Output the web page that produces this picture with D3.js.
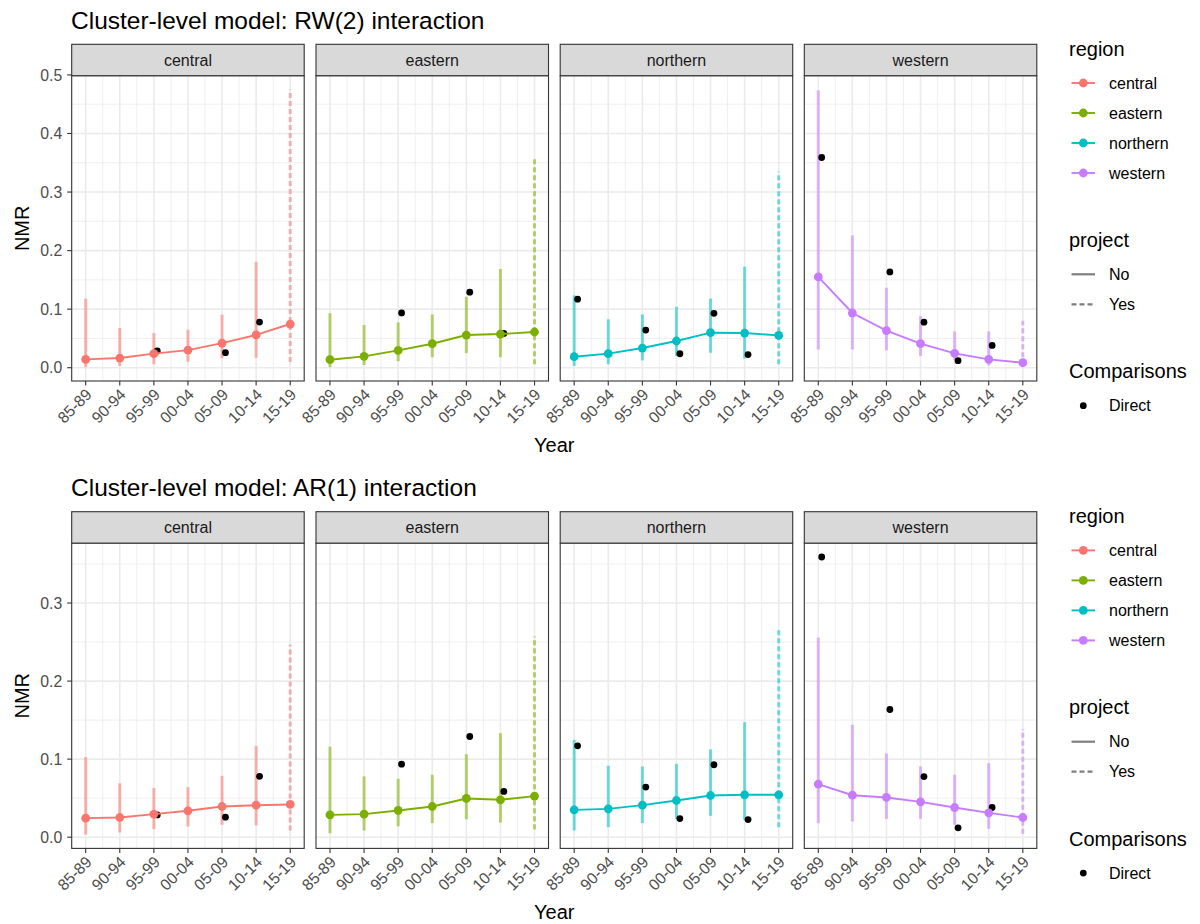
<!DOCTYPE html>
<html><head><meta charset="utf-8">
<script src="https://cdn.jsdelivr.net/npm/d3@7"></script>
<style>
body{margin:0;background:#fff}
text{font-family:"Liberation Sans",Arial,Helvetica,sans-serif}
</style>
</head><body>
<svg id="c" width="1200" height="924"></svg>
<script>
// ---------- data ----------
const periods = ["85-89","90-94","95-99","00-04","05-09","10-14","15-19"];
const regions = ["central","eastern","northern","western"];
const regionColors = ["#F8766D","#7CAE00","#00BFC4","#C77CFF"];
const projectFlag = ["No","No","No","No","No","No","Yes"];
const modelTitles = ["Cluster-level model: RW(2) interaction","Cluster-level model: AR(1) interaction"];
const yTicksTop = [0,0.1,0.2,0.3,0.4,0.5];
const yTicksBottom = [0,0.1,0.2,0.3];

// direct estimates (black points)
const direct_central  = [null,null,0.0285,null,0.0256,0.078,null];
const direct_eastern  = [null,null,0.0935,null,0.129,0.0586,null];
const direct_northern = [0.117,null,0.0642,0.0238,0.0928,0.0225,null];
const direct_western  = [0.359,null,0.1636,0.0777,0.012,0.038,null];

// RW(2) model
const rw2_central_est  = [0.0142,0.0165,0.024,0.030,0.042,0.056,0.0746];
const rw2_central_lo   = [0.001,0.003,0.006,0.010,0.016,0.017,0.0097];
const rw2_central_hi   = [0.118,0.068,0.059,0.065,0.0905,0.181,0.475];
const rw2_eastern_est  = [0.0137,0.0194,0.0296,0.041,0.0558,0.0575,0.061];
const rw2_eastern_lo   = [0.001,0.0046,0.011,0.018,0.025,0.018,0.006];
const rw2_eastern_hi   = [0.093,0.073,0.0775,0.091,0.121,0.1686,0.359];
const rw2_northern_est = [0.0188,0.024,0.0336,0.0456,0.0598,0.0592,0.0552];
const rw2_northern_lo  = [0.003,0.006,0.0125,0.02,0.0256,0.0154,0.006];
const rw2_northern_hi  = [0.1236,0.0826,0.091,0.104,0.118,0.1726,0.335];
const rw2_western_est  = [0.155,0.0934,0.0632,0.041,0.0245,0.0142,0.0085];
const rw2_western_lo   = [0.031,0.031,0.0296,0.02,0.013,0.004,0.004];
const rw2_western_hi   = [0.474,0.226,0.1367,0.088,0.062,0.062,0.080];

// AR(1) model
const ar1_central_est  = [0.0244,0.0252,0.0295,0.0338,0.0393,0.041,0.0419];
const ar1_central_lo   = [0.0034,0.006,0.0103,0.0137,0.016,0.015,0.0085];
const ar1_central_hi   = [0.1026,0.069,0.063,0.064,0.0786,0.117,0.2466];
const ar1_eastern_est  = [0.0286,0.0295,0.0342,0.0393,0.0496,0.0479,0.0526];
const ar1_eastern_lo   = [0.005,0.0085,0.014,0.018,0.023,0.0188,0.0103];
const ar1_eastern_hi   = [0.116,0.0778,0.0748,0.080,0.1064,0.1333,0.257];
const ar1_northern_est = [0.035,0.0363,0.041,0.047,0.0534,0.0543,0.0543];
const ar1_northern_lo  = [0.0085,0.0128,0.018,0.0235,0.0274,0.0222,0.0128];
const ar1_northern_hi  = [0.1248,0.0915,0.0906,0.094,0.1124,0.1474,0.266];
const ar1_western_est  = [0.068,0.0538,0.0509,0.0453,0.038,0.0312,0.0252];
const ar1_western_lo   = [0.018,0.020,0.0235,0.0235,0.0158,0.0107,0.0043];
const ar1_western_hi   = [0.2556,0.144,0.1073,0.0906,0.080,0.0949,0.1385];

// ---------- assemble ----------
const directs = [direct_central,direct_eastern,direct_northern,direct_western];
const modelData = [
  {est:[rw2_central_est,rw2_eastern_est,rw2_northern_est,rw2_western_est],
   lo:[rw2_central_lo,rw2_eastern_lo,rw2_northern_lo,rw2_western_lo],
   hi:[rw2_central_hi,rw2_eastern_hi,rw2_northern_hi,rw2_western_hi]},
  {est:[ar1_central_est,ar1_eastern_est,ar1_northern_est,ar1_western_est],
   lo:[ar1_central_lo,ar1_eastern_lo,ar1_northern_lo,ar1_western_lo],
   hi:[ar1_central_hi,ar1_eastern_hi,ar1_northern_hi,ar1_western_hi]}
];

function niceDomain(vals){
  const mn = d3.min(vals), mx = d3.max(vals), r = mx - mn;
  return [mn - 0.05*r, mx + 0.05*r];
}

// ---------- layout ----------
const svg = d3.select("#c");
const panelLefts = [71.7, 316, 560.2, 804.3];
const panelW = 232.5;
const rowOffset = 467.4;
const stripTop0 = 44.3, panelTop0 = 75.7, panelBot0 = 381;
const grid = "#EBEBEB", dark = "#333333", tickText = "#4D4D4D";
const fTick = 15.8, fStrip = 16, fAxisTitle = 20, fLegTitle = 20, fLegText = 16, fTitle = 24.5;

const x = d3.scaleLinear().domain([-0.41, 6.41]).range([0, panelW]);
const colorScale = d3.scaleOrdinal().domain(regions).range(regionColors);

[0,1].forEach(m => {
  const off = m*rowOffset;
  const pTop = panelTop0 + off, pBot = panelBot0 + off, sTop = stripTop0 + off;
  const md = modelData[m];
  const allVals = [].concat(...md.lo, ...md.hi, ...directs.map(a=>a.filter(v=>v!=null)));
  const y = d3.scaleLinear().domain(niceDomain(allVals)).range([pBot, pTop]);
  const yTicks = m===0 ? yTicksTop : yTicksBottom;
  const yMinor = yTicks.slice(0).map(v=>v+0.05).filter(v=>v<y.domain()[1]);

  // title
  svg.append("text").attr("x",71).attr("y",28.5+off).attr("font-size",fTitle).attr("fill","#000")
    .text(modelTitles[m]);

  regions.forEach((reg, r) => {
    const g = svg.append("g").attr("transform",`translate(${panelLefts[r]},0)`);
    const col = colorScale(reg);
    // background & grid
    g.append("rect").attr("x",0).attr("y",pTop).attr("width",panelW).attr("height",pBot-pTop).attr("fill","#fff");
    yMinor.forEach(v => g.append("line").attr("x1",0).attr("x2",panelW).attr("y1",y(v)).attr("y2",y(v))
      .attr("stroke",grid).attr("stroke-width",0.8));
    d3.range(0.5,6,1).forEach(v => g.append("line").attr("x1",x(v)).attr("x2",x(v)).attr("y1",pTop).attr("y2",pBot)
      .attr("stroke",grid).attr("stroke-width",0.8));
    yTicks.forEach(v => g.append("line").attr("x1",0).attr("x2",panelW).attr("y1",y(v)).attr("y2",y(v))
      .attr("stroke",grid).attr("stroke-width",1.6));
    periods.forEach((p,i) => g.append("line").attr("x1",x(i)).attr("x2",x(i)).attr("y1",pTop).attr("y2",pBot)
      .attr("stroke",grid).attr("stroke-width",1.6));

    // error bars
    periods.forEach((p,i) => {
      g.append("line").attr("x1",x(i)).attr("x2",x(i))
        .attr("y1",y(md.lo[r][i])).attr("y2",y(md.hi[r][i]))
        .attr("stroke",col).attr("stroke-opacity",0.55).attr("stroke-width",3)
        .attr("stroke-dasharray", projectFlag[i]==="Yes" ? "5,3" : null);
    });
    // direct points
    directs[r].forEach((v,i) => {
      if (v==null) return;
      g.append("circle").attr("cx",x(i+0.1)).attr("cy",y(v)).attr("r",3.4).attr("fill","#000");
    });
    // line
    const line = d3.line().x((d,i)=>x(i)).y(d=>y(d));
    g.append("path").attr("d",line(md.est[r])).attr("fill","none").attr("stroke",col).attr("stroke-width",1.9);
    md.est[r].forEach((v,i) => g.append("circle").attr("cx",x(i)).attr("cy",y(v)).attr("r",4.4).attr("fill",col));

    // border
    g.append("rect").attr("x",0).attr("y",pTop).attr("width",panelW).attr("height",pBot-pTop)
      .attr("fill","none").attr("stroke",dark).attr("stroke-width",1.1);
    // strip
    g.append("rect").attr("x",0).attr("y",sTop).attr("width",panelW).attr("height",pTop-sTop)
      .attr("fill","#D9D9D9").attr("stroke",dark).attr("stroke-width",1.1);
    g.append("text").attr("x",panelW/2).attr("y",(sTop+pTop)/2).attr("dy","0.35em").attr("text-anchor","middle")
      .attr("font-size",fStrip).attr("fill","#1A1A1A").text(reg);

    // x axis
    periods.forEach((p,i) => {
      g.append("line").attr("x1",x(i)).attr("x2",x(i)).attr("y1",pBot).attr("y2",pBot+4.5)
        .attr("stroke",dark).attr("stroke-width",1.1);
      g.append("text").attr("transform",`translate(${x(i)-1},${pBot+6.5}) rotate(-45)`)
        .attr("text-anchor","end").attr("dy","0.72em").attr("font-size",fTick).attr("fill",tickText).text(p);
    });

    // y axis on first panel
    if (r===0) {
      yTicks.forEach(v => {
        g.append("line").attr("x1",-4.5).attr("x2",0).attr("y1",y(v)).attr("y2",y(v)).attr("stroke",dark).attr("stroke-width",1.1);
        g.append("text").attr("x",-9.5).attr("y",y(v)).attr("dy","0.36em").attr("text-anchor","end")
          .attr("font-size",fTick).attr("fill",tickText).text(d3.format(".1f")(v));
      });
    }
  });

  // axis titles
  svg.append("text").attr("transform",`translate(28.8,${(pTop+pBot)/2}) rotate(-90)`).attr("text-anchor","middle")
    .attr("font-size",fAxisTitle).attr("fill","#000").text("NMR");
  svg.append("text").attr("x",(panelLefts[0]+panelLefts[3]+panelW)/2).attr("y",452+off).attr("text-anchor","middle")
    .attr("font-size",fAxisTitle).attr("fill","#000").text("Year");

  // legends
  const lg = svg.append("g").attr("transform",`translate(0,${off})`);
  const kx1 = 1071.5, kx2 = 1095, kc = 1083.3, tx = 1109;
  lg.append("text").attr("x",1069).attr("y",49).attr("dy","0.35em").attr("font-size",fLegTitle).text("region");
  regions.forEach((reg,k) => {
    const yy = 83 + k*30;
    lg.append("line").attr("x1",kx1).attr("x2",kx2).attr("y1",yy).attr("y2",yy).attr("stroke",colorScale(reg)).attr("stroke-width",1.9);
    lg.append("circle").attr("cx",kc).attr("cy",yy).attr("r",4.4).attr("fill",colorScale(reg));
    lg.append("text").attr("x",tx).attr("y",yy).attr("dy","0.35em").attr("font-size",fLegText).text(reg);
  });
  lg.append("text").attr("x",1069).attr("y",240).attr("dy","0.35em").attr("font-size",fLegTitle).text("project");
  ["No","Yes"].forEach((p,k) => {
    const yy = 274.3 + k*30;
    lg.append("line").attr("x1",kx1).attr("x2",kx2).attr("y1",yy).attr("y2",yy).attr("stroke","#7F7F7F")
      .attr("stroke-width",2.2).attr("stroke-dasharray", p==="Yes" ? "5,3" : null);
    lg.append("text").attr("x",tx).attr("y",yy).attr("dy","0.35em").attr("font-size",fLegText).text(p);
  });
  lg.append("text").attr("x",1069).attr("y",371.3).attr("dy","0.35em").attr("font-size",fLegTitle).text("Comparisons");
  lg.append("circle").attr("cx",kc).attr("cy",405.7).attr("r",3.4).attr("fill","#000");
  lg.append("text").attr("x",tx).attr("y",405.7).attr("dy","0.35em").attr("font-size",fLegText).text("Direct");
});
</script>
</body></html>
